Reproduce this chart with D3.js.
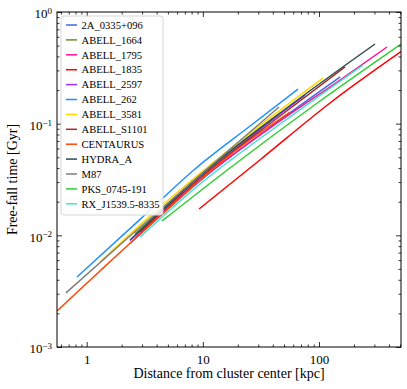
<!DOCTYPE html>
<html>
<head>
<meta charset="utf-8">
<script src="https://cdn.jsdelivr.net/npm/d3@7"></script>
<style>
  body { margin: 0; background: #fff; }
  svg text { font-family: "Liberation Serif", "Times New Roman", serif !important; fill: #000; }
</style>
</head>
<body>
<div id="chart"></div>
<script>
// Cluster names and colours (legend order)
var clusters = ["2A_0335+096", "ABELL_1664", "ABELL_1795", "ABELL_1835", "ABELL_2597",
  "ABELL_262", "ABELL_3581", "ABELL_S1101", "CENTAURUS", "HYDRA_A", "M87",
  "PKS_0745-191", "RX_J1539.5-8335"];
var colors = ["#4169e1", "#6b8e23", "#ff1493", "#ff0000", "#9b30ff",
  "#1e90ff", "#ffd700", "#a52a2a", "#ff4500", "#2f4f4f", "#808080",
  "#32cd32", "#40e0d0"];

// Radius [kpc] and free-fall time [Gyr]
var radius = [
  [2.36, 9.45, 46.2, 151.6],
  [2.61, 9.45, 46.2],
  [2.61, 9.45, 46.2, 151.6, 385],
  [9.27, 31.0, 124.4, 508],
  [2.36, 9.45, 46.2, 75.8],
  [0.825, 2.88, 8.56, 25.5, 65.9],
  [1.30, 4.28, 20.9, 108.3],
  [2.88, 9.45, 46.2, 167.4],
  [0.555, 1.30, 4.28, 17.1, 56.3],
  [2.36, 9.45, 46.2, 303.5],
  [0.663, 2.36, 9.45, 45.3],
  [4.45, 17.1, 102, 508],
  [2.88, 9.45, 46.2, 239]
];
var tff = [
  [0.00845, 0.0307, 0.108, 0.262],
  [0.0103, 0.0347, 0.1246],
  [0.00947, 0.0313, 0.1057, 0.246, 0.486],
  [0.0172, 0.0473, 0.1532, 0.441],
  [0.00899, 0.0326, 0.1221, 0.1806],
  [0.00423, 0.0139, 0.0393, 0.0953, 0.204],
  [0.00577, 0.0179, 0.0700, 0.256],
  [0.0107, 0.0326, 0.1171, 0.322],
  [0.00210, 0.00479, 0.0149, 0.0524, 0.1272],
  [0.00908, 0.0340, 0.1246, 0.517],
  [0.00305, 0.00987, 0.0347, 0.141],
  [0.01344, 0.0401, 0.1596, 0.517],
  [0.00966, 0.0288, 0.0993, 0.335]
];

var xTicks = [1, 10, 100];
var yTicks = [1e-3, 1e-2, 1e-1, 1];
var yExp = ["\u22123", "\u22122", "\u22121", "0"];

var W = 407, H = 389;
var margin = {top: 12, right: 6, bottom: 42, left: 57},
    width = W - margin.left - margin.right,
    height = H - margin.top - margin.bottom;

var svg = d3.select("#chart").append("svg")
    .attr("width", W).attr("height", H)
    .attr("font-family", "Liberation Serif");
var g = svg.append("g")
    .attr("transform", "translate(" + margin.left + "," + margin.top + ")");

var x = d3.scaleLog().domain([0.555, 508]).range([0, width]);
var y = d3.scaleLog().domain([1e-3, 1]).range([height, 0]);

g.append("clipPath").attr("id", "clip")
  .append("rect").attr("width", width).attr("height", height);

// Lines
var line = d3.line()
    .x(function(d) { return x(d[0]); })
    .y(function(d) { return y(d[1]); })
    .curve(d3.curveMonotoneX);

var series = clusters.map(function(name, i) {
  return { name: name, color: colors[i],
    values: radius[i].map(function(r, j) { return [r, tff[i][j]]; }) };
});

g.append("g").attr("clip-path", "url(#clip)")
  .selectAll("path")
  .data(series)
  .join("path")
    .attr("fill", "none")
    .attr("stroke", function(d) { return d.color; })
    .attr("stroke-width", 1.5)
    .attr("d", function(d) { return line(d.values); });

// Minor tick values
var xMinor = [], yMinor = [];
[-1, 0, 1, 2].forEach(function(e) {
  for (var k = 2; k <= 9; k++) {
    var v = k * Math.pow(10, e);
    if (v >= 0.555 && v <= 508) xMinor.push(v);
  }
});
[-3, -2, -1].forEach(function(e) {
  for (var k = 2; k <= 9; k++) yMinor.push(k * Math.pow(10, e));
});

// Axes with inward ticks on all sides
function styleAxis(sel) {
  sel.attr("font-family", "Liberation Serif");
  sel.select(".domain").remove();
  sel.selectAll("line").attr("stroke", "#000").attr("stroke-width", 0.8);
}
g.append("g").attr("transform", "translate(0," + height + ")")
  .call(d3.axisBottom(x).tickValues(xTicks).tickSizeInner(-5).tickSizeOuter(0).tickPadding(8).tickFormat(d3.format("d")))
  .call(styleAxis)
  .selectAll("text").attr("font-size", 13);
g.append("g").attr("transform", "translate(0," + height + ")")
  .call(d3.axisBottom(x).tickValues(xMinor).tickSizeInner(-2.5).tickSizeOuter(0).tickFormat(""))
  .call(styleAxis);
g.append("g")
  .call(d3.axisTop(x).tickValues(xTicks).tickSizeInner(-5).tickSizeOuter(0).tickFormat(""))
  .call(styleAxis);
g.append("g")
  .call(d3.axisTop(x).tickValues(xMinor).tickSizeInner(-2.5).tickSizeOuter(0).tickFormat(""))
  .call(styleAxis);

var yAxis = g.append("g")
  .call(d3.axisLeft(y).tickValues(yTicks).tickSizeInner(-5).tickSizeOuter(0).tickPadding(5).tickFormat(""))
  .call(styleAxis);
yAxis.selectAll(".tick text")
  .attr("font-size", 13)
  .attr("dy", "0.45em")
  .each(function(d, i) {
    var t = d3.select(this);
    t.text("10");
    t.append("tspan").attr("dy", "-0.5em").attr("font-size", 9).text(yExp[i]);
  });
g.append("g")
  .call(d3.axisLeft(y).tickValues(yMinor).tickSizeInner(-2.5).tickSizeOuter(0).tickFormat(""))
  .call(styleAxis);
g.append("g").attr("transform", "translate(" + width + ",0)")
  .call(d3.axisRight(y).tickValues(yTicks).tickSizeInner(-5).tickSizeOuter(0).tickFormat(""))
  .call(styleAxis);
g.append("g").attr("transform", "translate(" + width + ",0)")
  .call(d3.axisRight(y).tickValues(yMinor).tickSizeInner(-2.5).tickSizeOuter(0).tickFormat(""))
  .call(styleAxis);

// Frame
g.append("rect").attr("width", width).attr("height", height)
  .attr("fill", "none").attr("stroke", "#000").attr("stroke-width", 1);

// Axis titles
svg.append("text")
  .attr("x", margin.left + width / 2).attr("y", 378)
  .attr("text-anchor", "middle").attr("font-size", 14)
  .text("Distance from cluster center [kpc]");
svg.append("text")
  .attr("transform", "translate(17," + (margin.top + height / 2) + ") rotate(-90)")
  .attr("text-anchor", "middle").attr("font-size", 14)
  .text("Free-fall time [Gyr]");

// Legend
var legend = svg.append("g").attr("transform", "translate(61,16)");
legend.append("rect")
  .attr("width", 102).attr("height", 199).attr("rx", 3)
  .attr("fill", "#fff").attr("fill-opacity", 0.85)
  .attr("stroke", "#d6d6d6").attr("stroke-width", 1);
var item = legend.selectAll(".item")
  .data(series)
  .join("g")
    .attr("class", "item")
    .attr("transform", function(d, i) { return "translate(0," + (9 + i * 14.9) + ")"; });
item.append("line")
  .attr("x1", 5).attr("x2", 16)
  .attr("stroke", function(d) { return d.color; })
  .attr("stroke-width", 1.5);
item.append("text")
  .attr("x", 20.5).attr("dy", "0.35em")
  .attr("font-size", 10.6)
  .text(function(d) { return d.name; });
</script>
</body>
</html>
